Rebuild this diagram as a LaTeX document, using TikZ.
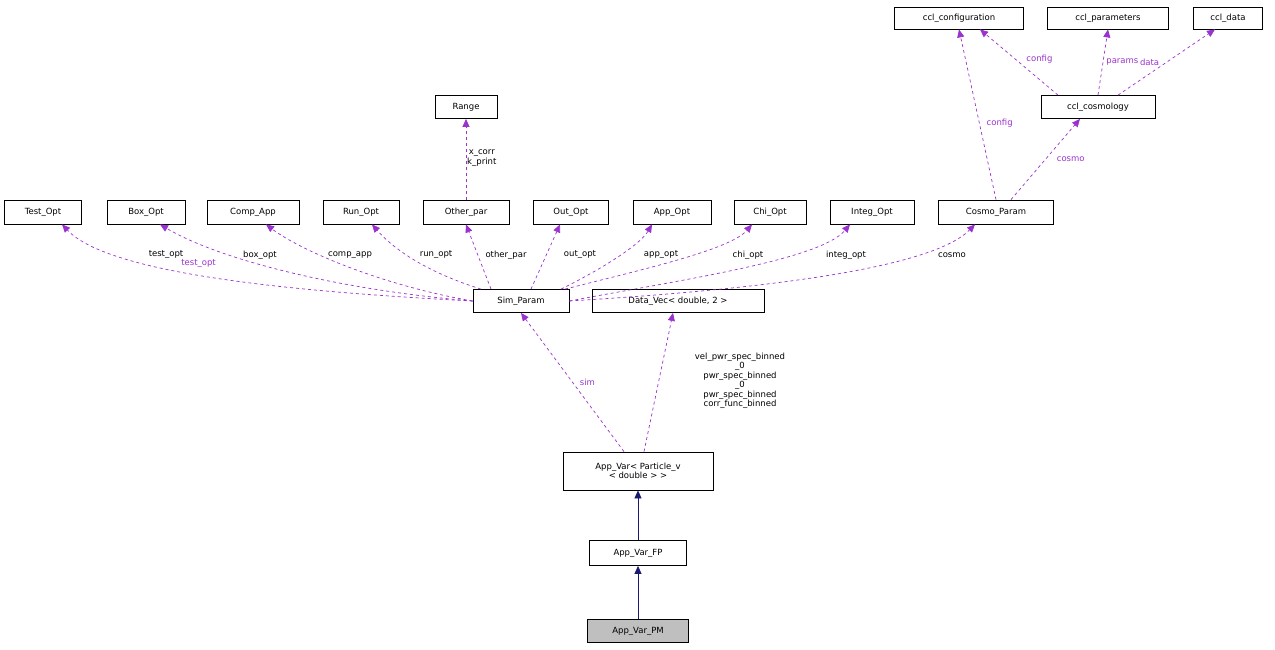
\documentclass[tikz,border=0pt]{standalone}
\usepackage{fontspec}
\setmainfont{DejaVu Sans}
\usetikzlibrary{arrows.meta}
\definecolor{pur}{HTML}{9A32CD}
\definecolor{nav}{HTML}{191970}
\begin{document}
\begin{tikzpicture}[x=1pt,y=-1pt,
  box/.style={draw,fill=white,inner sep=0pt,font=\fontsize{8.5}{9.5}\selectfont,align=center,line width=0.8pt},
  dep/.style={pur,dashed,line width=0.7pt,-{Triangle[length=8pt,width=7pt]}},
  inh/.style={nav,line width=0.7pt,-{Triangle[length=8pt,width=7pt]}},
  lab/.style={font=\fontsize{8.5}{9.5}\selectfont,inner sep=1pt,align=center}]
\useasboundingbox (0,0) rectangle (1275,649);
\node[box,minimum width=129,minimum height=22] (conf) at (959,18) {ccl\_configuration};
\node[box,minimum width=121,minimum height=22] (par) at (1108,18) {ccl\_parameters};
\node[box,minimum width=69,minimum height=22] (data) at (1228,18) {ccl\_data};
\node[box,minimum width=114,minimum height=23] (cosm) at (1098,107) {ccl\_cosmology};
\node[box,minimum width=62,minimum height=23] (range) at (466,107) {Range};
\node[box,minimum width=77,minimum height=24] (test) at (43,212) {Test\_Opt};
\node[box,minimum width=78,minimum height=24] (boxo) at (146,212) {Box\_Opt};
\node[box,minimum width=92,minimum height=24] (comp) at (253,212) {Comp\_App};
\node[box,minimum width=76,minimum height=24] (run) at (361,212) {Run\_Opt};
\node[box,minimum width=86,minimum height=24] (other) at (466,212) {Other\_par};
\node[box,minimum width=75,minimum height=24] (out) at (571,212) {Out\_Opt};
\node[box,minimum width=78,minimum height=24] (app) at (672,212) {App\_Opt};
\node[box,minimum width=72,minimum height=24] (chi) at (770,212) {Chi\_Opt};
\node[box,minimum width=84,minimum height=24] (integ) at (872,212) {Integ\_Opt};
\node[box,minimum width=115,minimum height=24] (cp) at (996,212) {Cosmo\_Param};
\node[box,minimum width=96,minimum height=23] (sim) at (521,301) {Sim\_Param};
\node[box,minimum width=172,minimum height=23] (dv) at (678,301) {Data\_Vec< double, 2 >};
\node[box,minimum width=150,minimum height=38] (av) at (638,471) {App\_Var< Particle\_v\\< double > >};
\node[box,minimum width=97,minimum height=25] (fp) at (638,553) {App\_Var\_FP};
\node[box,fill={rgb,255:red,191;green,191;blue,191},minimum width=101,minimum height=23] (pm) at (638,631) {App\_Var\_PM};

\draw[inh] (pm) -- (fp);
\draw[inh] (fp) -- (av);
\draw[dep] (av.north) ++(-14,0) -- (sim.south) node[lab,pos=0.5,right=6pt] {sim};
\draw[dep] (av.north) ++(6,0) -- (dv.south -| 673,0);
\node[lab] at (740,381) {vel\_pwr\_spec\_binned\\\_0\\pwr\_spec\_binned\\\_0\\pwr\_spec\_binned\\corr\_func\_binned};

\draw[dep] (sim.west) .. controls (300,292) and (110,275) .. (test.south -| 62,0) node[lab,pos=0.55,above=6pt] {test\_opt};
\node[lab] at (166,255) {test\_opt};
\draw[dep] (sim.west) .. controls (340,290) and (220,260) .. (boxo.south -| 160,0);
\node[lab] at (260,255) {box\_opt};
\draw[dep] (sim.west) .. controls (380,285) and (300,250) .. (comp.south -| 266,0);
\node[lab] at (350,255) {comp\_app};
\draw[dep] (sim.north) ++(-40,0) .. controls (420,270) and (390,245) .. (run.south -| 372,0);
\node[lab] at (436,255) {run\_opt};
\draw[dep] (sim.north) ++(-30,0) -- (other.south);
\node[lab] at (506,255) {other\_par};
\draw[dep] (sim.north) ++(10,0) -- (out.south -| 560,0);
\node[lab] at (580,255) {out\_opt};
\draw[dep] (sim.north) ++(40,0) .. controls (600,270) and (640,245) .. (app.south -| 652,0);
\node[lab] at (661,255) {app\_opt};
\draw[dep] (sim.north) ++(44,0) .. controls (640,270) and (730,250) .. (chi.south -| 752,0);
\node[lab] at (748,255) {chi\_opt};
\draw[dep] (sim.east) .. controls (680,280) and (820,260) .. (integ.south -| 850,0);
\node[lab] at (846,255) {integ\_opt};
\draw[dep] (sim.east) .. controls (750,290) and (930,270) .. (cp.south -| 975,0);
\node[lab] at (952,255) {cosmo};

\draw[dep] (other.north) -- (range.south);
\node[lab,anchor=west] at (466,158) {x\_corr\\k\_print};
\draw[dep] (cp.north) -- (conf.south) node[lab,pos=0.45,right=6pt] {config};
\draw[dep] (cp.north) ++(15,0) -- (cosm.south -| 1080,0) node[lab,pos=0.5,right=10pt] {cosmo};
\draw[dep] (cosm.north) ++(-40,0) -- (conf.south -| 980,0) node[lab,pos=0.55,right=10pt] {config};
\draw[dep] (cosm.north) -- (par.south) node[lab,pos=0.5,right=2pt] {params};
\draw[dep] (cosm.north) ++(20,0) -- (data.south -| 1215,0) node[lab,pos=0.5,left=6pt] {data};
\end{tikzpicture}
\end{document}
